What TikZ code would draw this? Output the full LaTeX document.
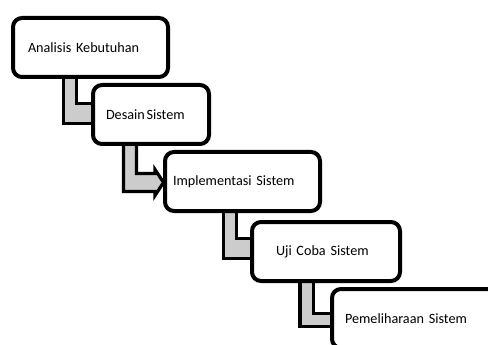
\documentclass[tikz,border=0pt]{standalone}
\usepackage{fontspec}
\setmainfont{Carlito}
\usetikzlibrary{calc,backgrounds}
\tikzset{
  box/.style={draw=black, line width=4pt, rounded corners=9pt, fill=white,
    minimum height=59pt, inner ysep=0pt, outer sep=0pt, align=left,
    font=\fontsize{14.2}{17}\selectfont},
  conn/.style={draw=black, line width=3.2pt, fill=black!20, line join=miter}
}
\begin{document}
\begin{tikzpicture}[x=1pt,y=-1pt]
\useasboundingbox (0,0) rectangle (488,345);
\clip (0,0) rectangle (488,345);
% boxes
\node[box, minimum width=155pt, text width=125pt, inner xsep=15pt] (b1) at (90.5,47.5) {Analisis Kebutuhan};
\node[box, minimum width=116pt, text width=90pt, inner xsep=13pt] (b2) at (151,114.5) {Desain\hspace{0.12em}Sistem};
\node[box, minimum width=155pt, text width=139pt, inner xsep=8pt] (b3) at (242.5,181.5) {Implementasi Sistem};
\node[box, minimum width=148pt, text width=100pt, inner xsep=24pt] (b4) at (326,251.5) {Uji Coba Sistem};
\node[box, minimum width=180pt, text width=154pt, inner xsep=13pt] (b5) at (422,318.5) {Pemeliharaan Sistem};
% connectors behind the boxes
\begin{scope}[on background layer]
\draw[conn] ($(b1.south west)+(50.5,0)$) |- ($(b2.west)+(8,9)$) -- ($(b2.west)+(8,-11)$) -| ($(b1.south west)+(63.5,0)$) -- cycle;
\draw[conn] ($(b2.south west)+(30.5,0)$) |- ($(b3.west)+(-10,10)$) -- ($(b3.west)+(-10,14)$) -- ($(b3.west)+(-1.5,1)$) -- ($(b3.west)+(-10,-12)$) -- ($(b3.west)+(-10,-8)$) -| ($(b2.south west)+(43.5,0)$) -- cycle;
\draw[conn] ($(b3.south west)+(58.5,0)$) |- ($(b4.west)+(8,7)$) -- ($(b4.west)+(8,-13)$) -| ($(b3.south west)+(71.5,0)$) -- cycle;
\draw[conn] ($(b4.south west)+(48,0)$) |- ($(b5.west)+(8,8)$) -- ($(b5.west)+(8,-5)$) -| ($(b4.south west)+(61.5,0)$) -- cycle;
\end{scope}
\end{tikzpicture}
\end{document}
